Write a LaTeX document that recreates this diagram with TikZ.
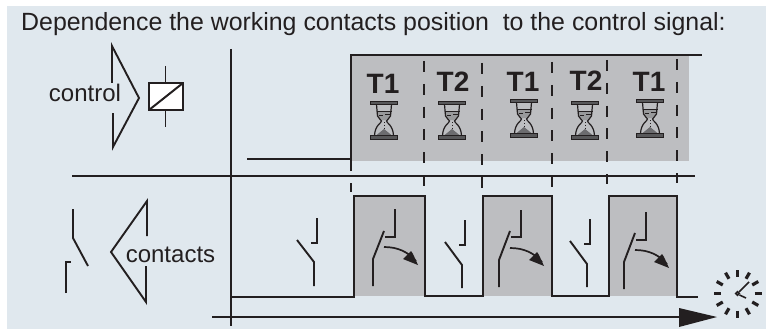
\documentclass[tikz,border=0pt]{standalone}
\usepackage{fontspec}
\setmainfont{Liberation Sans}
\usetikzlibrary{calc}
\definecolor{bgc}{HTML}{E0E8EE}
\definecolor{gr}{HTML}{BDBEC1}
\definecolor{ink}{HTML}{231F20}
\definecolor{sand}{HTML}{98999B}
\definecolor{barc}{HTML}{58585A}
\tikzset{
  px/.style={x=1pt,y=-1pt},
  ln/.style={draw=ink,line width=2pt},
  sym/.style={draw=ink,line width=1.9pt,line join=miter},
  dsh/.style={draw=ink,line width=1.6pt,dash pattern=on 11pt off 11.8pt},
  lab/.style={text=ink,inner sep=0pt,font=\fontsize{24.9}{26}\selectfont},
  sidelab/.style={text=ink,inner sep=0pt,font=\fontsize{24}{26}\selectfont},
  tlab/.style={text=ink,inner sep=0pt,font=\fontsize{28}{29}\selectfont\bfseries},
  hourglass/.pic={
    \fill[sand] (-7.5,-9) -- (7.5,-9) -- (6.5,-4) .. controls (6,-2) and (3,-1.5) .. (2,0) -- (-2,0) .. controls (-3,-1.5) and (-6,-2) .. (-6.5,-4) -- cycle;
    \fill[barc!80!gr] (-8,15.5) -- (0,9) -- (8,15.5) -- cycle;
    \draw[draw=ink,line width=1.2pt] (-7.5,-15.5) -- (-6.5,-4) .. controls (-6,-1) and (-2.5,-1) .. (-2.5,1)
      .. controls (-2.5,3) and (-9,5) .. (-9.5,15.5);
    \draw[draw=ink,line width=1.2pt] (7.5,-15.5) -- (6.5,-4) .. controls (6,-1) and (2.5,-1) .. (2.5,1)
      .. controls (2.5,3) and (9,5) .. (9.5,15.5);
    \draw[draw=ink,line width=.6pt] (-7.5,-9) -- (7.5,-9);
    \draw[draw=ink,line width=.7pt] (1,-6) -- (6,-6) (-5,-4.5) -- (-1,-4.5);
    \draw[draw=ink,line width=.9pt,dash pattern=on 1.3pt off 1.6pt] (0,2) -- (0,9);
    \draw[draw=ink,fill=barc,line width=.8pt] (-13.5,-19) rectangle (13.5,-15.5);
    \draw[draw=ink,fill=barc,line width=.8pt] (-13.5,15.5) rectangle (13.5,19);
  },
}
\begin{document}
\begin{tikzpicture}[px]
\useasboundingbox (0,0) rectangle (766,329);
\fill[bgc] (7,6) rectangle (766,329);
% grey areas
\fill[gr] (352,55) rectangle (689,161);
\fill[gr] (355,197) rectangle (424,296);
\fill[gr] (483,197) rectangle (552,296);
\fill[gr] (610,197) rectangle (677,296);
% title
\node[lab,anchor=base west] (title) at (21,31) {Dependence the working contacts position\ \ to the control signal:};
% axes
\coordinate (va) at (231,49);
\coordinate (vb) at (231,326);
\coordinate (ha) at (72,176);
\coordinate (hb) at (695,176);
\coordinate (ta) at (212,317);
\coordinate (tb) at (700,317);
\draw[ln] (va) -- (vb);
\draw[ln] (ha) -- (hb);
\draw[ln] (ta) -- (tb);
\fill[ink] (679,308) -- (717,317) -- (679,327) -- cycle;
% control signal
\draw[ln,line join=miter] (247,159) -- (351,159);
\draw[ln,line join=miter] (351,171) -- (351,55) -- (702,55);
\draw[draw=ink,line width=1.6pt] (351,183) -- (351,192);
% dashed
\draw[dsh] (424,61) -- (424,186);
\draw[dsh] (482,63) -- (482,188);
\draw[dsh] (552,62) -- (552,187);
\draw[dsh] (607,60) -- (607,184);
\draw[dsh] (677,59) -- (677,183);
% contact signal
\draw[ln,line join=miter] (231,297) -- (354,297) -- (354,196) -- (425,196) -- (425,296) -- (483,296) -- (483,196) -- (552,196) -- (552,296) -- (609,296) -- (609,196) -- (677,196) -- (677,297) -- (698,297);
% labels
\node[tlab,anchor=base] (t1a) at (383,93) {T1};
\node[tlab,anchor=base] (t2a) at (453,92) {T2};
\node[tlab,anchor=base] (t1b) at (523,92) {T1};
\node[tlab,anchor=base] (t2b) at (586,91) {T2};
\node[tlab,anchor=base] (t1c) at (649,92) {T1};
\pic at (384,120) {hourglass};
\pic at (452,120) {hourglass};
\pic at (524,118) {hourglass};
\pic at (585,120) {hourglass};
\pic at (650,118) {hourglass};
% control symbol
\node[sidelab,anchor=base] (ctrl) at (85,102) {control};
\draw[sym] (112,83) -- (112,46) -- (139,98) -- (113,147) -- (113,113);
\draw[sym] (165.5,66) -- (165.5,82) (165.5,110) -- (165.5,127);
\draw[draw=ink,fill=white,line width=2.3pt] (149,83) rectangle (183,110);
\draw[draw=ink,line width=2pt] (149,110) -- (183,83);
% contacts symbol
\node[sidelab,anchor=base] (cont) at (170.5,262) {contacts};
\draw[sym] (147,236) -- (147,201) -- (111,252) -- (146,302) -- (146,266);
\draw[sym] (73,209) -- (73,238) -- (88,266);
\draw[sym] (66,293) -- (66,262) -- (71,262);
% open contacts
\draw[sym] (314,286) -- (314,262) -- (297,240);
\draw[sym] (311,243) -- (317,243) -- (317,218);
\draw[sym] (462,288) -- (462,265) -- (445,242);
\draw[sym] (459,245) -- (465,245) -- (465,220);
\draw[sym] (587,287) -- (587,264) -- (570,241);
\draw[sym] (584,244) -- (590,244) -- (590,219);
% closed contacts
\draw[sym] (373,286) -- (373,259) -- (384,231);
\draw[sym] (385,237) -- (395,237) -- (395,209);
\draw[sym] (499,287) -- (499,260) -- (510,231);
\draw[sym] (511,237) -- (521,237) -- (521,210);
\draw[sym] (624,289) -- (624,262) -- (635,233);
\draw[sym] (636,240) -- (646,240) -- (646,212);
% bent arrows
\draw[draw=ink,line width=1.7pt] (384,247) .. controls (398,247) and (408,252) .. (416,261);
\fill[ink] (418,265) -- (403,259) -- (411,251) -- (413,254) -- cycle;
\draw[draw=ink,line width=1.7pt] (510,248) .. controls (524,248) and (534,253) .. (542,262);
\fill[ink] (544,266) -- (529,260) -- (537,252) -- (539,255) -- cycle;
\draw[draw=ink,line width=1.7pt] (635,250) .. controls (649,250) and (659,255) .. (667,264);
\fill[ink] (669,268) -- (654,262) -- (662,254) -- (664,257) -- cycle;
% clock
\foreach \a in {0,30,...,330}{
  \draw[draw=ink,line width=3.2pt] ($(737.5,293.5)+(\a:17)$) -- ($(737.5,293.5)+(\a:24)$);
}
\draw[draw=ink,line width=1.6pt] (737.5,293.5) circle (1.8);
\draw[draw=ink,line width=1.6pt] (739,292) -- (749,282) (739.5,295) -- (746,298);
\end{tikzpicture}
\end{document}
